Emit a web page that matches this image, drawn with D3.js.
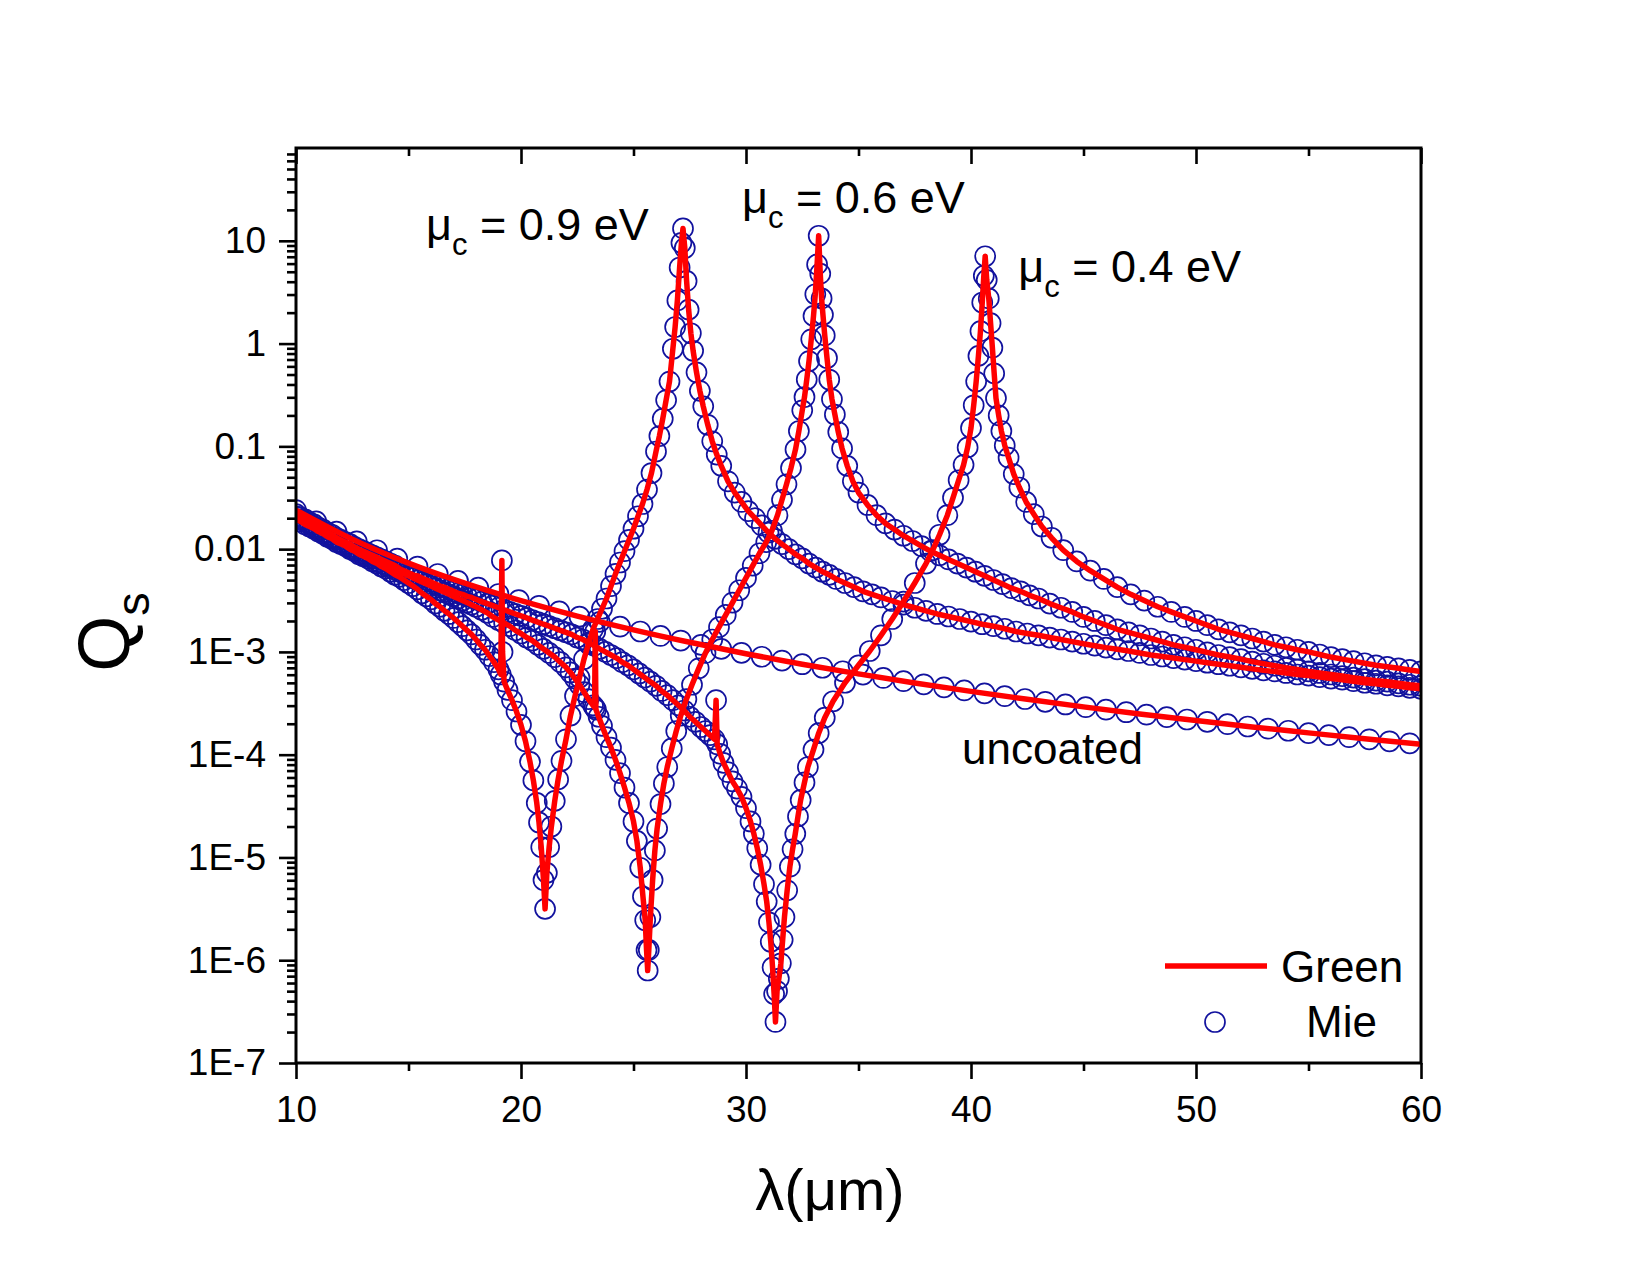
<!DOCTYPE html>
<html>
<head>
<meta charset="utf-8">
<script src="https://cdnjs.cloudflare.com/ajax/libs/d3/7.8.5/d3.min.js"></script>
<style>
  body { margin: 0; background: #fff; }
  text { font-family: Arial, "Liberation Sans", sans-serif; fill: #000; }
</style>
</head>
<body>
<div id="chart"></div>
<script>
// tick values / labels
var xMajor = [10, 20, 30, 40, 50, 60];
var xMinor = [15, 25, 35, 45, 55];
var yMajor = [1e-7, 1e-6, 1e-5, 1e-4, 1e-3, 0.01, 0.1, 1, 10];
var yLabels = ["1E-7", "1E-6", "1E-5", "1E-4", "1E-3", "0.01", "0.1", "1", "10"];

// uncoated sphere: Green (line) and Mie (circles), [lambda um, Qs]
var greenUncoated = [[10,2.40e-2],[12.5,1.25e-2],[15,7.31e-3],[17.5,4.66e-3],[20,3.15e-3],[22.5,2.23e-3],[25,1.64e-3],[27.5,1.24e-3],[30,9.59e-4],[32.5,7.59e-4],[35,6.11e-4],[37.5,4.99e-4],[40,4.13e-4],[42.5,3.46e-4],[45,2.92e-4],[47.5,2.49e-4],[50,2.15e-4],[52.5,1.86e-4],[55,1.63e-4],[57.5,1.43e-4],[60,1.26e-4]];
var mieUncoated = [[10,2.40e-2],[10.9,1.86e-2],[11.8,1.48e-2],[12.7,1.19e-2],[13.6,9.75e-3],[14.5,8.07e-3],[15.4,6.77e-3],[16.3,5.73e-3],[17.2,4.90e-3],[18.1,4.22e-3],[19,3.66e-3],[19.9,3.19e-3],[20.8,2.81e-3],[21.7,2.48e-3],[22.6,2.20e-3],[23.5,1.96e-3],[24.4,1.76e-3],[25.3,1.58e-3],[26.2,1.43e-3],[27.1,1.29e-3],[28,1.17e-3],[28.9,1.07e-3],[29.8,9.79e-4],[30.7,8.97e-4],[31.6,8.24e-4],[32.5,7.59e-4],[33.4,7.01e-4],[34.3,6.48e-4],[35.2,6.01e-4],[36.1,5.58e-4],[37,5.19e-4],[37.9,4.84e-4],[38.8,4.52e-4],[39.7,4.22e-4],[40.6,3.95e-4],[41.5,3.71e-4],[42.4,3.48e-4],[43.3,3.27e-4],[44.2,3.08e-4],[45.1,2.90e-4],[46,2.74e-4],[46.9,2.59e-4],[47.8,2.45e-4],[48.7,2.32e-4],[49.6,2.20e-4],[50.5,2.09e-4],[51.4,1.98e-4],[52.3,1.88e-4],[53.2,1.79e-4],[54.1,1.71e-4],[55,1.62e-4],[55.9,1.55e-4],[56.8,1.48e-4],[57.7,1.41e-4],[58.6,1.35e-4],[59.5,1.29e-4]];

// graphene coated, mu_c = 0.9 eV
var mu09 = [[10,1.95e-2],[10.2,1.86e-2],[10.4,1.74e-2],[10.6,1.66e-2],[10.8,1.58e-2],[11,1.48e-2],[11.2,1.41e-2],[11.4,1.32e-2],[11.6,1.26e-2],[11.8,1.17e-2],[12,1.12e-2],[12.2,1.07e-2],[12.4,1.0e-2],[12.6,9.55e-3],[12.8,8.91e-3],[13,8.51e-3],[13.2,8.13e-3],[13.4,7.59e-3],[13.6,7.24e-3],[13.8,6.76e-3],[14,6.46e-3],[14.2,6.03e-3],[14.4,5.62e-3],[14.6,5.37e-3],[14.8,5.01e-3],[15,4.68e-3],[15.2,4.37e-3],[15.4,4.07e-3],[15.6,3.72e-3],[15.8,3.47e-3],[16,3.24e-3],[16.2,2.95e-3],[16.4,2.75e-3],[16.6,2.51e-3],[16.8,2.34e-3],[17,2.14e-3],[17.2,1.95e-3],[17.4,1.78e-3],[17.6,1.62e-3],[17.8,1.48e-3],[18,1.32e-3],[18.2,1.17e-3],[18.4,1.05e-3],[18.6,9.12e-4],[18.8,7.94e-4],[19,6.76e-4],[19.1,6.03e-4],[19.15,7.76e-3],[19.18,1.0e-3],[19.25,5.13e-4],[19.4,4.27e-4],[19.6,3.39e-4],[19.8,2.63e-4],[20,1.95e-4],[20.2,1.35e-4],[20.4,8.51e-5],[20.55,5.62e-5],[20.7,3.39e-5],[20.8,2.19e-5],[20.9,1.26e-5],[21,6.03e-6],[21.07,3.16e-6],[21.15,7.08e-6],[21.25,1.26e-5],[21.35,2.0e-5],[21.5,3.55e-5],[21.65,5.75e-5],[21.8,8.71e-5],[22,1.41e-4],[22.2,2.40e-4],[22.4,3.72e-4],[22.6,5.62e-4],[22.8,8.51e-4],[23,1.20e-3],[23.2,1.66e-3],[23.4,2.09e-3],[23.6,2.63e-3],[23.8,3.31e-3],[24,4.37e-3],[24.2,5.75e-3],[24.4,7.41e-3],[24.6,9.55e-3],[24.8,1.23e-2],[25,1.58e-2],[25.2,2.09e-2],[25.4,2.75e-2],[25.6,3.80e-2],[25.8,5.50e-2],[26,8.91e-2],[26.15,0.126],[26.3,0.186],[26.45,0.282],[26.6,0.427],[26.75,0.891],[26.85,1.45],[26.95,2.63],[27.05,5.50],[27.13,9.55],[27.2,13.2],[27.28,8.51],[27.36,4.07],[27.45,2.14],[27.55,1.26],[27.65,0.851],[27.8,0.525],[27.95,0.347],[28.1,0.245],[28.3,0.162],[28.5,0.112],[28.7,8.32e-2],[28.9,6.46e-2],[29.2,4.57e-2],[29.5,3.55e-2],[29.8,2.88e-2],[30.1,2.34e-2],[30.4,2.0e-2],[30.7,1.70e-2],[31,1.45e-2],[31.3,1.26e-2],[31.6,1.12e-2],[31.9,1.0e-2],[32.2,8.91e-3],[32.5,8.13e-3],[32.8,7.24e-3],[33.1,6.61e-3],[33.4,6.03e-3],[33.7,5.62e-3],[34,5.13e-3],[34.4,4.68e-3],[34.8,4.27e-3],[35.2,3.89e-3],[35.6,3.63e-3],[36,3.39e-3],[36.5,3.13e-3],[37,2.88e-3],[37.5,2.69e-3],[38,2.51e-3],[38.5,2.34e-3],[39,2.21e-3],[39.5,2.09e-3],[40,1.97e-3],[40.5,1.86e-3],[41,1.78e-3],[41.5,1.68e-3],[42,1.58e-3],[42.5,1.51e-3],[43,1.45e-3],[43.5,1.38e-3],[44,1.32e-3],[44.5,1.26e-3],[45,1.20e-3],[45.5,1.15e-3],[46,1.10e-3],[46.5,1.06e-3],[47,1.02e-3],[47.5,9.77e-4],[48,9.33e-4],[48.5,9.02e-4],[49,8.71e-4],[49.5,8.41e-4],[50,8.13e-4],[50.5,7.85e-4],[51,7.59e-4],[51.5,7.33e-4],[52,7.08e-4],[52.5,6.84e-4],[53,6.61e-4],[53.5,6.46e-4],[54,6.24e-4],[54.5,6.03e-4],[55,5.89e-4],[55.5,5.69e-4],[56,5.50e-4],[56.5,5.37e-4],[57,5.19e-4],[57.5,5.01e-4],[58,4.90e-4],[58.5,4.73e-4],[59,4.62e-4],[59.5,4.47e-4],[60,4.37e-4]];

// graphene coated, mu_c = 0.6 eV
var mu06 = [[10,2.09e-2],[10.2,1.95e-2],[10.4,1.86e-2],[10.6,1.74e-2],[10.8,1.66e-2],[11,1.55e-2],[11.2,1.45e-2],[11.4,1.38e-2],[11.6,1.29e-2],[11.8,1.23e-2],[12,1.15e-2],[12.2,1.10e-2],[12.4,1.05e-2],[12.6,9.77e-3],[12.8,9.33e-3],[13,8.91e-3],[13.2,8.51e-3],[13.4,8.13e-3],[13.6,7.59e-3],[13.8,7.24e-3],[14,6.92e-3],[14.2,6.61e-3],[14.4,6.31e-3],[14.6,6.03e-3],[14.8,5.75e-3],[15,5.50e-3],[15.2,5.25e-3],[15.4,5.01e-3],[15.6,4.79e-3],[15.8,4.57e-3],[16,4.37e-3],[16.2,4.17e-3],[16.4,3.98e-3],[16.6,3.80e-3],[16.8,3.63e-3],[17,3.47e-3],[17.2,3.31e-3],[17.4,3.16e-3],[17.6,3.02e-3],[17.8,2.88e-3],[18,2.75e-3],[18.25,2.57e-3],[18.5,2.40e-3],[18.75,2.19e-3],[19,2.04e-3],[19.25,1.91e-3],[19.5,1.78e-3],[19.75,1.62e-3],[20,1.51e-3],[20.25,1.38e-3],[20.5,1.29e-3],[20.75,1.17e-3],[21,1.07e-3],[21.25,9.77e-4],[21.5,8.91e-4],[21.75,7.94e-4],[22,7.08e-4],[22.2,6.31e-4],[22.4,5.50e-4],[22.6,4.79e-4],[22.8,4.07e-4],[23,3.47e-4],[23.2,3.02e-4],[23.27,2.88e-4],[23.3,1.58e-3],[23.33,2.75e-4],[23.45,2.34e-4],[23.6,1.91e-4],[23.8,1.48e-4],[24,1.17e-4],[24.2,8.91e-5],[24.4,6.61e-5],[24.6,4.79e-5],[24.8,3.39e-5],[25,2.24e-5],[25.15,1.45e-5],[25.3,7.94e-6],[25.42,4.17e-6],[25.52,2.45e-6],[25.58,1.26e-6],[25.63,7.94e-7],[25.68,1.26e-6],[25.75,2.63e-6],[25.85,6.03e-6],[25.95,1.17e-5],[26.05,1.91e-5],[26.2,3.31e-5],[26.35,5.25e-5],[26.5,7.59e-5],[26.7,1.15e-4],[26.9,1.70e-4],[27.1,2.40e-4],[27.35,3.47e-4],[27.6,4.79e-4],[27.9,6.92e-4],[28.2,9.77e-4],[28.5,1.32e-3],[28.8,1.74e-3],[29.1,2.29e-3],[29.4,3.02e-3],[29.7,3.98e-3],[30,5.25e-3],[30.3,6.92e-3],[30.6,9.12e-3],[30.9,1.17e-2],[31.15,1.51e-2],[31.4,2.14e-2],[31.6,3.02e-2],[31.8,4.27e-2],[32,6.17e-2],[32.2,9.33e-2],[32.35,0.141],[32.5,0.224],[32.6,0.302],[32.7,0.447],[32.8,0.676],[32.9,1.10],[33,1.86],[33.08,3.02],[33.16,5.89],[33.23,11.2],[33.3,4.79],[33.36,2.75],[33.42,1.91],[33.5,1.20],[33.6,0.724],[33.7,0.447],[33.82,0.288],[33.95,0.204],[34.1,0.138],[34.27,9.55e-2],[34.5,6.46e-2],[34.75,4.57e-2],[35,3.55e-2],[35.4,2.69e-2],[35.8,2.14e-2],[36.2,1.78e-2],[36.6,1.55e-2],[37,1.35e-2],[37.4,1.20e-2],[37.8,1.07e-2],[38.2,9.55e-3],[38.6,8.71e-3],[39,7.94e-3],[39.4,7.24e-3],[39.8,6.61e-3],[40.2,6.03e-3],[40.6,5.50e-3],[41,5.01e-3],[41.4,4.57e-3],[41.8,4.17e-3],[42.2,3.89e-3],[42.6,3.55e-3],[43,3.31e-3],[43.5,2.95e-3],[44,2.69e-3],[44.5,2.45e-3],[45,2.19e-3],[45.5,2.0e-3],[46,1.82e-3],[46.5,1.66e-3],[47,1.55e-3],[47.5,1.45e-3],[48,1.35e-3],[48.5,1.26e-3],[49,1.17e-3],[49.5,1.11e-3],[50,1.05e-3],[50.5,9.89e-4],[51,9.33e-4],[51.5,8.91e-4],[52,8.51e-4],[52.5,8.04e-4],[53,7.67e-4],[53.5,7.33e-4],[54,7.0e-4],[54.5,6.76e-4],[55,6.46e-4],[55.5,6.24e-4],[56,6.03e-4],[56.5,5.82e-4],[57,5.62e-4],[57.5,5.43e-4],[58,5.25e-4],[58.5,5.13e-4],[59,4.95e-4],[59.5,4.79e-4],[60,4.68e-4]];

// graphene coated, mu_c = 0.4 eV
var mu04 = [[10,2.19e-2],[10.2,2.04e-2],[10.4,1.95e-2],[10.6,1.82e-2],[10.8,1.74e-2],[11,1.62e-2],[11.2,1.55e-2],[11.4,1.45e-2],[11.6,1.38e-2],[11.8,1.29e-2],[12,1.23e-2],[12.2,1.17e-2],[12.4,1.12e-2],[12.6,1.05e-2],[12.8,1.0e-2],[13,9.55e-3],[13.2,9.12e-3],[13.4,8.71e-3],[13.6,8.32e-3],[13.8,7.94e-3],[14,7.59e-3],[14.2,7.24e-3],[14.4,6.92e-3],[14.6,6.46e-3],[14.8,6.17e-3],[15,5.89e-3],[15.2,5.62e-3],[15.4,5.50e-3],[15.6,5.25e-3],[15.8,5.01e-3],[16,4.79e-3],[16.2,4.57e-3],[16.4,4.37e-3],[16.6,4.27e-3],[16.8,4.07e-3],[17,3.89e-3],[17.2,3.72e-3],[17.4,3.63e-3],[17.6,3.47e-3],[17.8,3.39e-3],[18,3.24e-3],[18.25,3.09e-3],[18.5,2.95e-3],[18.75,2.82e-3],[19,2.69e-3],[19.25,2.57e-3],[19.5,2.45e-3],[19.75,2.34e-3],[20,2.24e-3],[20.25,2.14e-3],[20.5,2.04e-3],[20.75,1.95e-3],[21,1.86e-3],[21.25,1.78e-3],[21.5,1.70e-3],[21.75,1.62e-3],[22,1.55e-3],[22.25,1.48e-3],[22.5,1.38e-3],[22.75,1.32e-3],[23,1.23e-3],[23.25,1.15e-3],[23.5,1.07e-3],[23.75,1.0e-3],[24,9.33e-4],[24.25,8.71e-4],[24.5,7.94e-4],[24.75,7.41e-4],[25,6.76e-4],[25.25,6.17e-4],[25.5,5.62e-4],[25.75,5.13e-4],[26,4.68e-4],[26.25,4.17e-4],[26.5,3.80e-4],[26.75,3.39e-4],[27,3.02e-4],[27.25,2.69e-4],[27.5,2.34e-4],[27.75,2.09e-4],[28,1.86e-4],[28.2,1.70e-4],[28.4,1.55e-4],[28.6,1.41e-4],[28.67,3.39e-4],[28.72,1.26e-4],[28.85,1.02e-4],[29,8.32e-5],[29.2,6.76e-5],[29.4,5.50e-5],[29.6,4.68e-5],[29.8,3.89e-5],[30,3.02e-5],[30.2,2.24e-5],[30.35,1.70e-5],[30.5,1.23e-5],[30.65,8.51e-6],[30.8,5.50e-6],[30.92,3.72e-6],[31.02,2.34e-6],[31.1,1.51e-6],[31.18,8.51e-7],[31.25,4.68e-7],[31.31,2.51e-7],[31.38,5.01e-7],[31.46,6.61e-7],[31.55,9.33e-7],[31.63,1.58e-6],[31.71,2.63e-6],[31.83,4.79e-6],[31.95,8.13e-6],[32.07,1.20e-5],[32.19,1.70e-5],[32.31,2.51e-5],[32.43,3.63e-5],[32.6,5.37e-5],[32.75,7.59e-5],[33,1.12e-4],[33.23,1.62e-4],[33.5,2.29e-4],[33.87,3.31e-4],[34.4,5.01e-4],[35,7.41e-4],[35.5,1.02e-3],[36,1.45e-3],[36.5,2.09e-3],[37,3.09e-3],[37.5,4.68e-3],[38,7.24e-3],[38.3,9.77e-3],[38.6,1.38e-2],[38.95,2.14e-2],[39.2,3.16e-2],[39.45,4.68e-2],[39.67,6.61e-2],[39.85,9.77e-2],[40,0.151],[40.12,0.251],[40.23,0.427],[40.33,0.759],[40.42,1.32],[40.5,2.51],[40.57,4.57],[40.63,7.08],[40.7,4.17],[40.79,2.75],[40.87,1.58],[40.95,0.912],[41.03,0.513],[41.11,0.295],[41.23,0.200],[41.35,0.141],[41.5,0.102],[41.67,7.76e-2],[41.9,5.37e-2],[42.15,3.98e-2],[42.45,2.88e-2],[42.79,2.19e-2],[43.15,1.66e-2],[43.58,1.29e-2],[44.1,9.77e-3],[44.7,7.59e-3],[45.3,6.17e-3],[45.9,5.13e-3],[46.5,4.27e-3],[47.1,3.63e-3],[47.7,3.16e-3],[48.3,2.75e-3],[48.9,2.45e-3],[49.5,2.19e-3],[50,2.0e-3],[50.5,1.82e-3],[51,1.66e-3],[51.5,1.55e-3],[52,1.45e-3],[52.5,1.35e-3],[53,1.26e-3],[53.5,1.17e-3],[54,1.11e-3],[54.5,1.05e-3],[55,1.0e-3],[55.5,9.44e-4],[56,8.91e-4],[56.5,8.51e-4],[57,8.13e-4],[57.5,7.76e-4],[58,7.41e-4],[58.5,7.16e-4],[59,6.92e-4],[59.5,6.68e-4],[60,6.46e-4]];

var annotations = [
  { text: "0.9 eV", lam: 15.78, q: 10.2 },
  { text: "0.6 eV", lam: 29.82, q: 18.5 },
  { text: "0.4 eV", lam: 42.1, q: 4.0 }
];

var width = 1650, height = 1275;
var pLeft = 296, pRight = 1421, pTop = 148, pBottom = 1063;
var red = "#ff0000", navy = "#12129e";

var svg = d3.select('#chart').append('svg')
  .attr('width', width)
  .attr('height', height);
svg.append('rect').attr('width', width).attr('height', height).attr('fill', '#fff');

var x = d3.scaleLinear().domain([10, 60]).range([pLeft, pRight]);
var y = d3.scaleLog().domain([1e-7, 80]).range([pBottom, pTop]);

// minor log ticks 2..9 per decade
var yMinor = [];
yMajor.forEach(function (d) {
  for (var k = 2; k <= 9; k++) { if (d * k < 80) yMinor.push(d * k); }
});

svg.append('clipPath').attr('id', 'plotclip')
  .append('rect').attr('x', pLeft).attr('y', pTop)
  .attr('width', pRight - pLeft).attr('height', pBottom - pTop);

var plot = svg.append('g').attr('clip-path', 'url(#plotclip)');

var line = d3.line()
  .x(function (d) { return x(d[0]); })
  .y(function (d) { return y(d[1]); });

// Mie circles
[mieUncoated, mu09, mu06, mu04].forEach(function (series) {
  plot.append('g').selectAll('circle').data(series)
    .enter().append('circle')
    .attr('cx', function (d) { return x(d[0]); })
    .attr('cy', function (d) { return y(d[1]); })
    .attr('r', 10)
    .attr('fill', 'none')
    .attr('stroke', navy)
    .attr('stroke-width', 1.7);
});

// Green lines
plot.append('path').datum(greenUncoated)
  .attr('d', line.curve(d3.curveMonotoneX))
  .attr('fill', 'none').attr('stroke', red).attr('stroke-width', 5.5);
line.curve(d3.curveLinear);
[mu09, mu06, mu04].forEach(function (series) {
  plot.append('path').datum(series)
    .attr('d', line)
    .attr('fill', 'none')
    .attr('stroke', red)
    .attr('stroke-width', 5.5)
    .attr('stroke-linejoin', 'round');
});

// axes
function styleAxis(g) {
  g.select('.domain').remove();
  g.selectAll('.tick line').attr('stroke', '#000').attr('stroke-width', 2.6);
  g.selectAll('.tick text').attr('font-family', 'Arial, "Liberation Sans", sans-serif')
    .attr('font-size', 37).attr('fill', '#000');
}

svg.append('g').attr('transform', 'translate(0,' + pBottom + ')')
  .call(d3.axisBottom(x).tickValues(xMajor).tickSize(16).tickSizeOuter(0).tickPadding(17)
    .tickFormat(d3.format('d')))
  .call(styleAxis);
svg.append('g').attr('transform', 'translate(0,' + pBottom + ')')
  .call(d3.axisBottom(x).tickValues(xMinor).tickSize(8).tickSizeOuter(0).tickFormat(''))
  .call(styleAxis);
svg.append('g').attr('transform', 'translate(0,' + pTop + ')')
  .call(d3.axisBottom(x).tickValues(xMajor).tickSize(16).tickSizeOuter(0).tickFormat(''))
  .call(styleAxis);
svg.append('g').attr('transform', 'translate(0,' + pTop + ')')
  .call(d3.axisBottom(x).tickValues(xMinor).tickSize(8).tickSizeOuter(0).tickFormat(''))
  .call(styleAxis);

svg.append('g').attr('transform', 'translate(' + pLeft + ',0)')
  .call(d3.axisLeft(y).tickValues(yMajor).tickSize(17).tickSizeOuter(0).tickPadding(13)
    .tickFormat(function (d, i) { return yLabels[i]; }))
  .call(styleAxis);
svg.append('g').attr('transform', 'translate(' + pLeft + ',0)')
  .call(d3.axisLeft(y).tickValues(yMinor).tickSize(9).tickSizeOuter(0).tickFormat(''))
  .call(styleAxis);

// frame
svg.append('rect').attr('x', pLeft).attr('y', pTop)
  .attr('width', pRight - pLeft).attr('height', pBottom - pTop)
  .attr('fill', 'none').attr('stroke', '#000').attr('stroke-width', 3);

// annotations mu_c
annotations.forEach(function (a) {
  var t = svg.append('text')
    .attr('x', x(a.lam)).attr('y', y(a.q))
    .attr('font-size', 45);
  t.append('tspan').text('\u03bc');
  t.append('tspan').attr('font-size', 31).attr('dy', 15).text('c');
  t.append('tspan').attr('dy', -15).text(' = ' + a.text);
});

svg.append('text').attr('x', 962).attr('y', 764).attr('font-size', 44).text('uncoated');

// legend
svg.append('line').attr('x1', 1165).attr('x2', 1267).attr('y1', 966).attr('y2', 966)
  .attr('stroke', red).attr('stroke-width', 5.5);
svg.append('text').attr('x', 1281).attr('y', 982).attr('font-size', 44).text('Green');
svg.append('circle').attr('cx', 1215).attr('cy', 1022).attr('r', 10)
  .attr('fill', 'none').attr('stroke', navy).attr('stroke-width', 1.7);
svg.append('text').attr('x', 1306).attr('y', 1037).attr('font-size', 44).text('Mie');

// axis titles
svg.append('text').attr('x', 830).attr('y', 1210).attr('text-anchor', 'middle')
  .attr('font-size', 58).text('\u03bb(\u03bcm)');

var yt = svg.append('text').attr('transform', 'translate(129,632) rotate(-90)')
  .attr('text-anchor', 'middle').attr('font-size', 72);
yt.append('tspan').text('Q');
yt.append('tspan').attr('font-size', 47).attr('dy', 20).text('s');
</script>
</body>
</html>
